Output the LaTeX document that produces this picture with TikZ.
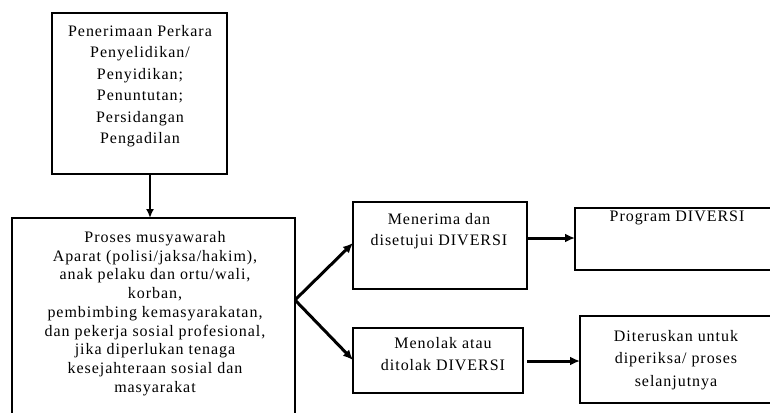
\documentclass[tikz,border=0pt]{standalone}
\usepackage{fontspec}
\setmainfont{Liberation Serif}[LetterSpace=6]
\usetikzlibrary{arrows.meta}
\begin{document}
\begin{tikzpicture}[x=1pt,y=-1pt,
  box/.style={draw, line width=1.3pt},
  txt/.style={align=center, inner sep=0pt, anchor=north},
  arr/.style={line width=3pt, -{Latex[length=10pt,width=9pt]}}]
\useasboundingbox (0,0) rectangle (770,412);
\begin{scope}
\clip (0,0) rectangle (770,412);
% boxes
\draw[box] (52,13) rectangle (227,174); \coordinate (topb) at (150,174);
\draw[box] (12,218) rectangle (295,420); \coordinate (bigt) at (150,218); \coordinate (bigr) at (295,300);
\draw[box] (353,202) rectangle (527,289); \coordinate (accl) at (353,243); \coordinate (accr) at (527,238);
\draw[box] (575,208) rectangle (780,270); \coordinate (progl) at (575,238);
\draw[box] (353,328) rectangle (523,393); \coordinate (rejl) at (353,360); \coordinate (rejr) at (527,361);
\draw[box] (580,316) rectangle (780,403); \coordinate (nextl) at (580,361);
\end{scope}
% texts
\node[txt, font=\fontsize{16}{21.5}\selectfont] (t1) at (140,25) {Penerimaan Perkara\\Penyelidikan/\\Penyidikan;\\Penuntutan;\\Persidangan\\Pengadilan};
\node[txt, font=\fontsize{16}{18.75}\selectfont] (t2) at (155,231) {Proses musyawarah\\Aparat (polisi/jaksa/hakim),\\anak pelaku dan ortu/wali,\\korban,\\pembimbing kemasyarakatan,\\dan pekerja sosial profesional,\\jika diperlukan tenaga\\kesejahteraan sosial dan\\masyarakat};
\node[txt, font=\fontsize{16}{21.5}\selectfont] (t3) at (439,213) {Menerima dan\\disetujui DIVERSI};
\node[txt, font=\fontsize{16}{21.5}\selectfont] (t4) at (677,211) {Program DIVERSI};
\node[txt, font=\fontsize{16}{22.5}\selectfont] (t5) at (443,337) {Menolak atau\\ditolak DIVERSI};
\node[txt, font=\fontsize{16}{22.5}\selectfont] (t6) at (676,330) {Diteruskan untuk\\diperiksa/ proses\\selanjutnya};
% arrows
\draw[arr, line width=1.7pt, -{Latex[length=9pt,width=8pt]}] (topb) -- (bigt);
\draw[arr] (bigr) -- (accl);
\draw[arr] (bigr) -- (rejl);
\draw[arr] (accr) -- (progl);
\draw[arr] (rejr) -- (nextl);
\end{tikzpicture}
\end{document}
